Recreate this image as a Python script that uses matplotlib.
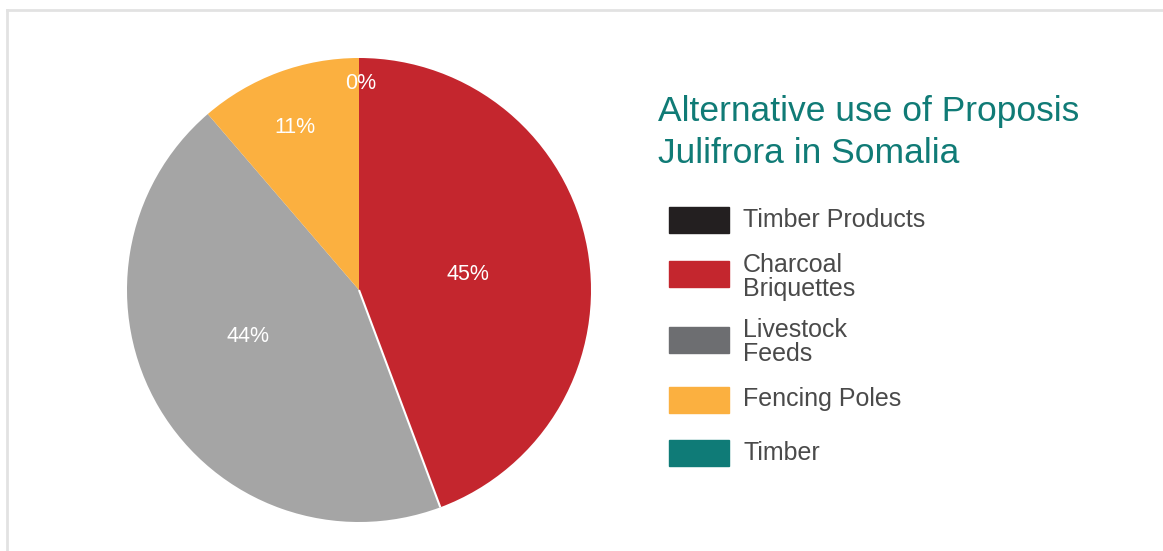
import numpy as np
import matplotlib
matplotlib.use("Agg")
import matplotlib.pyplot as plt
from matplotlib.patches import Rectangle
from matplotlib.lines import Line2D

# ---- data ----
categories = ["Timber Products", "Charcoal\nBriquettes", "Livestock\nFeeds", "Fencing Poles", "Timber"]
values = [0.0, 44.3, 44.4, 11.3, 0.0]
pct_labels = ["0%", "45%", "44%", "11%", ""]
title_lines = ["Alternative use of Proposis", "Julifrora in Somalia"]

# ---- style ----
pie_colors = ["#231f20", "#c4262e", "#a5a5a5", "#fbb040", "#0f7b77"]
legend_colors = ["#231f20", "#c4262e", "#6d6e71", "#fbb040", "#0f7b77"]
label_radius = [0.89, 0.475, 0.517, 0.754, 0.5]
label_angle_offset = [-0.5, -2.0, -8.0, 1.0, 0.0]  # degrees (counter-clockwise positive)
W, H = 1163, 551

plt.rcParams['font.family'] = ['Liberation Sans', 'DejaVu Sans']
fig = plt.figure(figsize=(W / 100, H / 100), dpi=100)

def fx(x):
    return x / W

def fy(y):
    return 1 - y / H

# frame (top and left light lines)
fig.add_artist(Line2D([fx(7), fx(W)], [fy(10), fy(10)], color="#e2e2e2", lw=2, transform=fig.transFigure))
fig.add_artist(Line2D([fx(7), fx(7)], [fy(10), fy(H)], color="#e2e2e2", lw=2, transform=fig.transFigure))

cx, cy, r = 359, 290, 232
ax = fig.add_axes([fx(cx - r), fy(cy + r), 2 * r / W, 2 * r / H])
wedges, texts = ax.pie(values, colors=pie_colors, startangle=90, counterclock=False,
                       radius=1, labels=None, wedgeprops=dict(linewidth=0))
ax.set_xlim(-1, 1)
ax.set_ylim(-1, 1)
ax.set_aspect('equal')
ax.axis('off')

for w, lab, rr, off in zip(wedges, pct_labels, label_radius, label_angle_offset):
    if not lab:
        continue
    mid = np.deg2rad((w.theta1 + w.theta2) / 2 + off)
    ax.text(rr * np.cos(mid), rr * np.sin(mid), lab, color="white", fontsize=15.5,
            ha="center", va="center")

# white separator between charcoal and livestock
b = np.deg2rad(wedges[1].theta1)
ax.plot([0, np.cos(b)], [0, np.sin(b)], color="white", lw=1.5, solid_capstyle="butt")

# title (two lines)
for line, y in zip(title_lines, [108, 150]):
    fig.text(fx(658), fy(y), line, color="#107b76", fontsize=25.5, fontweight="normal",
             ha="left", va="center_baseline")

# legend
patch_y = [220, 274, 340, 400, 453]
text_y = [220, 277, 342, 399, 453]
for c, lab, py, ty in zip(legend_colors, categories, patch_y, text_y):
    fig.add_artist(Rectangle((fx(669), fy(py + 13)), 60 / W, 26 / H, color=c,
                             transform=fig.transFigure))
    fig.text(fx(743), fy(ty), lab, color="#4a4a4a", fontsize=18, ha="left", va="center",
             linespacing=1.02)

fig.savefig("out.png", dpi=100)
